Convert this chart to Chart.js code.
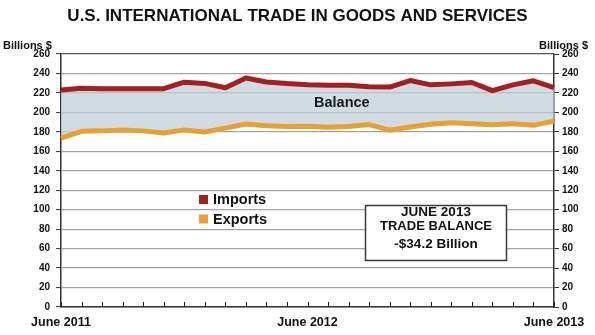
<!DOCTYPE html>
<html><head><meta charset="utf-8">
<script src="https://cdn.jsdelivr.net/npm/chart.js@4.4.0/dist/chart.umd.min.js"></script>
<style>html,body{margin:0;padding:0;background:#fff}canvas{display:block}</style>
</head><body>
<canvas id="c" width="595" height="335"></canvas>
<script>
// ---- data (billions of dollars, monthly) ----
const months = ['June 2011','July 2011','Aug 2011','Sept 2011','Oct 2011','Nov 2011','Dec 2011',
  'Jan 2012','Feb 2012','Mar 2012','Apr 2012','May 2012','June 2012','July 2012','Aug 2012',
  'Sept 2012','Oct 2012','Nov 2012','Dec 2012','Jan 2013','Feb 2013','Mar 2013','Apr 2013',
  'May 2013','June 2013'];
const imports = [223, 224.8, 224.2, 224.3, 224.3, 224.3, 231, 229.8, 225.3, 235.3, 231.3, 229.6,
  228.4, 228, 227.8, 226.4, 226, 232.7, 228.3, 229.3, 230.7, 222.3, 228.3, 232.5, 225.4];
const exportsData = [173.5, 180.5, 181, 182, 181, 178.8, 182, 179.8, 183.8, 188, 186.3, 185.5,
  185.8, 184.8, 185.5, 187.5, 181.7, 185, 187.7, 189.3, 188.3, 187.3, 188.3, 186.7, 191.2];
const xTickLabels = ['June 2011', 'June 2012', 'June 2013'];
const seriesNames = ['Imports', 'Exports'];
const titleText = 'U.S. INTERNATIONAL TRADE IN GOODS AND SERVICES';
const axisTitle = 'Billions $';
const balanceLabel = 'Balance';
const boxLines = ['JUNE 2013', 'TRADE BALANCE', '-$34.2 Billion'];

const FONT = '"Liberation Sans", Arial, Helvetica, sans-serif';
const RED = '#a51f21';
const ORANGE = '#e8a033';
const INK = '#111111';

const overlay = {
  id: 'overlay',
  afterDatasetsDraw(chart) {
    const ctx = chart.ctx, xs = chart.scales.x, a = chart.chartArea;
    ctx.save();
    // inward tick marks on the x axis
    ctx.strokeStyle = '#222'; ctx.lineWidth = 1;
    xs.ticks.forEach((t, i) => {
      const px = Math.round(xs.getPixelForTick(i)) + 0.5;
      ctx.beginPath(); ctx.moveTo(px, a.bottom); ctx.lineTo(px, a.bottom - 5); ctx.stroke();
    });
    // axis unit labels
    ctx.fillStyle = INK; ctx.textBaseline = 'middle';
    ctx.font = 'bold 11px ' + FONT;
    ctx.textAlign = 'left'; ctx.fillText(axisTitle, 3, 46);
    ctx.textAlign = 'right'; ctx.fillText(axisTitle, 588, 46);
    // Balance label
    ctx.font = 'bold 14.5px ' + FONT; ctx.fillStyle = '#1a1a1a';
    ctx.textAlign = 'left'; ctx.fillText(balanceLabel, 314, 103);
    // legend
    const cols = [RED, ORANGE];
    ctx.font = 'bold 14.5px ' + FONT;
    seriesNames.forEach((n, i) => {
      const y = 195 + i * 19.5;
      ctx.fillStyle = cols[i]; ctx.fillRect(199, y, 9, 9);
      ctx.fillStyle = INK; ctx.fillText(n, 213, y + 5);
    });
    // trade balance box
    ctx.fillStyle = '#fff'; ctx.fillRect(365, 205, 142, 56);
    ctx.strokeStyle = '#3a3a3a'; ctx.lineWidth = 1.5;
    ctx.strokeRect(365.5, 205.5, 141, 55);
    ctx.fillStyle = INK; ctx.textAlign = 'center';
    ctx.font = 'bold 13.5px ' + FONT; ctx.fillText(boxLines[0], 436, 212);
    ctx.font = 'bold 13px ' + FONT; ctx.fillText(boxLines[1], 436, 226.5);
    ctx.font = 'bold 13.5px ' + FONT; ctx.fillText(boxLines[2], 436, 244.5);
    ctx.restore();
  }
};

new Chart(document.getElementById('c'), {
  type: 'line',
  data: {
    labels: months,
    datasets: [
      { label: seriesNames[0], data: imports, borderColor: RED, borderWidth: 5,
        backgroundColor: 'rgba(190,205,215,0.72)', fill: '+1', pointRadius: 0, tension: 0,
        borderJoinStyle: 'round', borderCapStyle: 'butt' },
      { label: seriesNames[1], data: exportsData, borderColor: ORANGE, borderWidth: 5,
        fill: false, pointRadius: 0, tension: 0, borderJoinStyle: 'round' }
    ]
  },
  options: {
    responsive: false,
    animation: false,
    devicePixelRatio: 1,
    layout: { padding: 0 },
    plugins: {
      filler: { drawTime: 'beforeDatasetsDraw' },
      legend: { display: false },
      tooltip: { enabled: false },
      title: { display: true, text: titleText, color: INK,
        font: { family: FONT, size: 17, weight: 'bold', lineHeight: 1.2 },
        padding: { top: 6, bottom: 27.6 } }
    },
    scales: {
      x: {
        type: 'category',
        grid: { display: false, drawTicks: false },
        border: { display: true, color: '#333', width: 1.5 },
        ticks: { autoSkip: false, maxRotation: 0, padding: 8, color: INK,
          font: { family: FONT, size: 12.5, weight: 'bold' },
          callback: (v, i) => xTickLabels.includes(months[i]) ? months[i] : '' },
        afterFit: s => { s.height = 28; }
      },
      y: {
        position: 'left', min: 0, max: 260,
        ticks: { stepSize: 20, padding: 6, color: INK, font: { family: FONT, size: 10, weight: 'bold' } },
        grid: { color: c => c.tick && c.tick.value === 260 ? '#555' : '#a4a4a4', lineWidth: 1.2,
          tickLength: 5, tickColor: '#333', tickWidth: 1 },
        border: { display: true, color: '#333', width: 1.5 },
        afterFit: s => { s.width = 61; }
      },
      y2: {
        position: 'right', min: 0, max: 260,
        ticks: { stepSize: 20, padding: 3, color: INK, font: { family: FONT, size: 10, weight: 'bold' } },
        grid: { drawOnChartArea: false, tickLength: 5, tickColor: '#333', tickWidth: 1 },
        border: { display: true, color: '#333', width: 1.5 },
        afterFit: s => { s.width = 41; }
      }
    }
  },
  plugins: [overlay]
});
</script>
</body></html>
